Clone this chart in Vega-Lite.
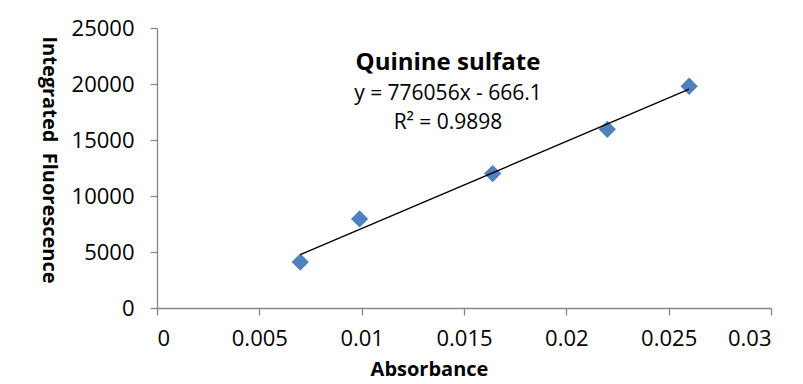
{
  "$schema": "https://vega.github.io/schema/vega-lite/v6.json",
  "width": 614,
  "height": 280,
  "autosize": {"type": "none"},
  "padding": {"left": 157, "top": 28, "right": 32, "bottom": 76},
  "background": "white",
  "title": {
    "text": "Quinine sulfate",
    "subtitle": ["y = 776056x - 666.1", "R² = 0.9898"],
    "anchor": "middle",
    "dx": -16,
    "dy": 120,
    "font": "Open Sans",
    "fontSize": 24,
    "fontWeight": "bold",
    "color": "#000000",
    "subtitleFont": "Open Sans",
    "subtitleFontSize": 21,
    "subtitleColor": "#000000",
    "subtitleLineHeight": 29,
    "subtitlePadding": 8
  },
  "data": {
    "values": [
      {"absorbance": 0.007, "fluorescence": 4100},
      {"absorbance": 0.0099, "fluorescence": 7950},
      {"absorbance": 0.0164, "fluorescence": 12000},
      {"absorbance": 0.022, "fluorescence": 15950},
      {"absorbance": 0.026, "fluorescence": 19800}
    ]
  },
  "layer": [
    {
      "mark": {"type": "point", "shape": "diamond", "filled": true, "size": 300, "color": "#4F81BD", "opacity": 1},
      "encoding": {
        "x": {
          "field": "absorbance",
          "type": "quantitative",
          "scale": {"domain": [0, 0.03], "nice": false, "zero": true},
          "axis": {
            "values": [0, 0.005, 0.01, 0.015, 0.02, 0.025, 0.03],
            "format": "~g",
            "title": "Absorbance",
            "titleX": 272,
            "titleY": 67,
            "titleBaseline": "alphabetic",
            "titleAlign": "center",
            "labelPadding": 13
          }
        },
        "y": {
          "field": "fluorescence",
          "type": "quantitative",
          "scale": {"domain": [0, 25000], "nice": false},
          "axis": {
            "values": [0, 5000, 10000, 15000, 20000, 25000],
            "format": "d",
            "title": "Integrated\u00a0\u00a0Fluorescence",
            "titleAngle": 90,
            "titleX": -115,
            "titleY": 131.5,
            "titleAlign": "center",
            "titleBaseline": "alphabetic",
            "labelPadding": 16
          }
        }
      }
    },
    {
      "transform": [{"regression": "fluorescence", "on": "absorbance"}],
      "mark": {"type": "line", "color": "#000000", "strokeWidth": 1.4},
      "encoding": {
        "x": {"field": "absorbance", "type": "quantitative"},
        "y": {"field": "fluorescence", "type": "quantitative"}
      }
    }
  ],
  "config": {
    "view": {"stroke": null},
    "font": "Open Sans",
    "axis": {
      "grid": false,
      "domainColor": "#868686",
      "domainWidth": 1.3,
      "tickColor": "#868686",
      "tickWidth": 1.3,
      "tickSize": 7,
      "labelFont": "Open Sans",
      "labelFontSize": 22,
      "labelColor": "#000000",
      "titleFont": "Open Sans",
      "titleFontSize": 20,
      "titleFontWeight": "bold",
      "titleColor": "#000000"
    }
  }
}
